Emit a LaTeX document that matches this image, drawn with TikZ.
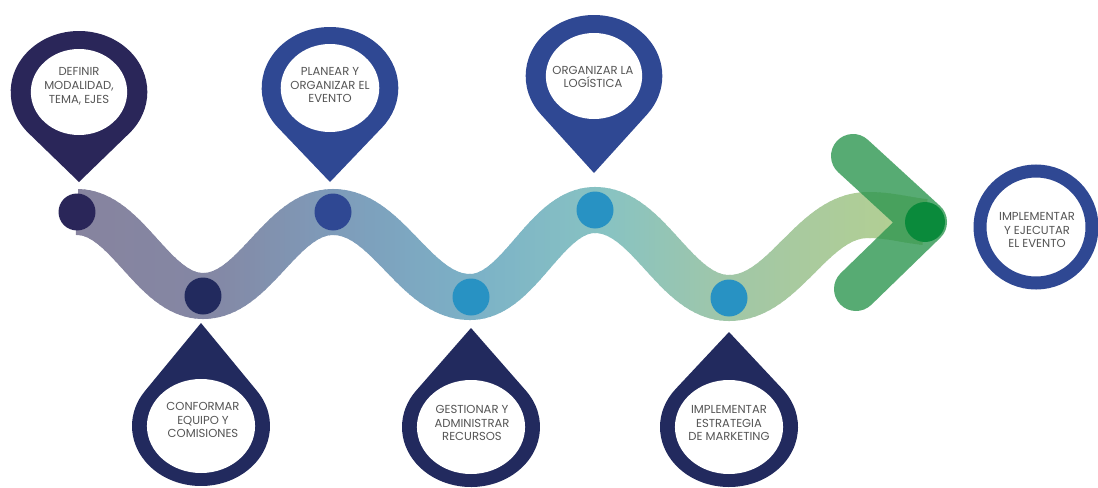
\documentclass[tikz,border=0pt]{standalone}
\usepackage{fontspec}
\setmainfont{Poppins}
\usetikzlibrary{calc}
\definecolor{pinA}{HTML}{2A2659}
\definecolor{pinB}{HTML}{2F4893}
\definecolor{pinC}{HTML}{222A5E}
\definecolor{dotC}{HTML}{2892C3}
\definecolor{chev}{HTML}{2E9650}
\definecolor{dotG}{HTML}{0A8A3B}
\definecolor{txt}{HTML}{555555}
\definecolor{w0}{HTML}{87839E}
\definecolor{w1}{HTML}{8487A4}
\definecolor{w2}{HTML}{7E9CBA}
\definecolor{w3}{HTML}{7CB2C7}
\definecolor{w4}{HTML}{88C3C2}
\definecolor{w5}{HTML}{A2C7A6}
\definecolor{w6}{HTML}{B9D28C}
\def\wavepath{(77,212) .. controls (127,212) and (153,296) .. (203,296)
  .. controls (255,296) and (281,212) .. (333,212)
  .. controls (388,212) and (415,297) .. (470,297)
  .. controls (520,297) and (545,210) .. (595,210)
  .. controls (649,210) and (675,298) .. (729,298)
  .. controls (785,298) and (812,215) .. (868,215)
  .. controls (890,215) and (905,220) .. (925,222)}
\newcommand\gradseg[5]{% list, x0, x1, colA, colB
  \foreach \xx in {#1} {%
    \pgfmathtruncatemacro\pp{(\xx-#2)/(#3-#2)*100}%
    \colorlet{stripcol}{#5!\pp!#4}%
    \begin{scope}
      \clip (\xx-0.6,0) rectangle (\xx+5.6,487);
      \draw[line width=0.92cm, stripcol] \wavepath;
    \end{scope}
  }}
% pin: cx, cy, tip distance, tip angle, R, r, xscale, colour
\newcommand\mappin[8]{%
  \begin{scope}[shift={(#1,#2)}, xscale=#7]
    \pgfmathsetmacro\aa{acos(#5/#3)}
    \fill[#8] (#4:#3) -- ({#4+\aa}:#5) arc[start angle={#4+\aa}, end angle={#4+360-\aa}, radius=#5] -- cycle;
    \fill[white] (0,0) circle[radius=#6];
  \end{scope}}
\tikzset{
  pintext/.style={align=center, text=txt, inner sep=0pt, font=\fontsize{6.6}{7.9}\selectfont},
  dot/.style={circle, minimum size=0.74cm, inner sep=0pt}
}
\begin{document}
\begin{tikzpicture}[x={(0.02cm,0)}, y={(0,-0.02cm)}]
\useasboundingbox[fill=white] (0,0) rectangle (1098,487);
% wave ribbon with horizontal gradient
\gradseg{60,65,...,200}{60}{205}{w0}{w1}
\gradseg{205,210,...,330}{205}{335}{w1}{w2}
\gradseg{335,340,...,470}{335}{475}{w2}{w3}
\gradseg{475,480,...,600}{475}{605}{w3}{w4}
\gradseg{605,610,...,730}{605}{735}{w4}{w5}
\gradseg{735,740,...,950}{735}{955}{w5}{w6}
% chevron arrow
\coordinate (cup) at (853,156);
\coordinate (ctip) at (925,222);
\coordinate (clo) at (856,289);
\draw[chev, opacity=0.8, line width=0.88cm, line cap=round, line join=round] (cup) -- (ctip) -- (clo);
\node[dot, fill=dotG, minimum size=0.8cm] (dg) at (ctip) {};
% dots on the wave
\node[dot, fill=pinA] (d1) at (77,212) {};
\node[dot, fill=pinC] (d2) at (203,296) {};
\node[dot, fill=pinB] (d3) at (333,212) {};
\node[dot, fill=dotC] (d4) at (471,297) {};
\node[dot, fill=dotC] (d5) at (595,210) {};
\node[dot, fill=dotC] (d6) at (729,298) {};
% top pins
\mappin{79}{92}{90}{90}{61}{43}{1.12}{pinA}
\mappin{330}{88}{94}{90}{61}{44}{1.12}{pinB}
\mappin{594}{76}{97}{90}{61}{43}{1.12}{pinB}
% bottom pins
\mappin{201}{426}{103}{270}{60}{47}{1.15}{pinC}
\mappin{471}{427}{99}{270}{60}{47}{1.15}{pinC}
\mappin{729}{427}{95}{270}{60}{47}{1.15}{pinC}
% final ring
\draw[pinB, line width=0.26cm] (1036,227) circle[radius=56];
% texts
\node[pintext] (t1) at (79,86) {DEFINIR\\MODALIDAD,\\TEMA, EJES};
\node[pintext] (t2) at (330,85) {PLANEAR Y\\ORGANIZAR EL\\EVENTO};
\node[pintext] (t3) at (593,77) {ORGANIZAR LA\\LOGÍSTICA};
\node[pintext] (t4) at (203,420) {CONFORMAR\\EQUIPO Y\\COMISIONES};
\node[pintext] (t5) at (472,423) {GESTIONAR Y\\ADMINISTRAR\\RECURSOS};
\node[pintext] (t6) at (729,423) {IMPLEMENTAR\\ESTRATEGIA\\DE MARKETING};
\node[pintext] (t7) at (1037,230) {IMPLEMENTAR\\Y EJECUTAR\\EL EVENTO};
\end{tikzpicture}
\end{document}
